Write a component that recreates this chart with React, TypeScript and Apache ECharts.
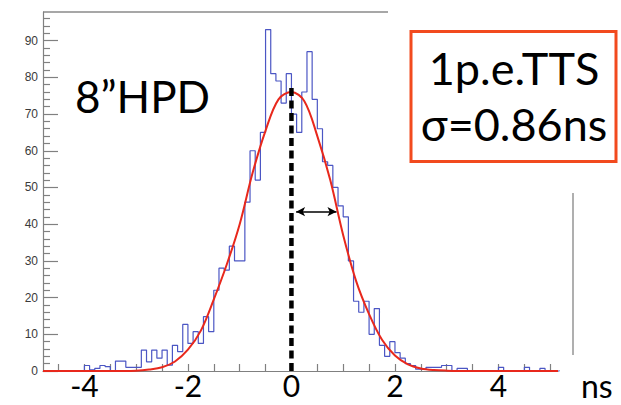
import React, { useEffect, useRef } from "react";
import * as echarts from "echarts";

// ---- histogram: 0.1 ns bins starting at -4.8 ns ----
const binStart = -4.8;
const binWidth = 0.1;
const countsM48toM41 = [0, 0, 0, 0, 0, 0, 0, 0];
const countsM40toM31 = [1.5, 0.3, 0.7, 1.5, 1.2, 0, 2.7, 2.7, 1, 1];
const countsM30toM21 = [1, 5.7, 2.5, 5.7, 3.5, 5.7, 1.6, 7, 5.3, 12.7];
const countsM20toM11 = [7.5, 10.7, 7.5, 14.8, 10.7, 22, 28, 27.5, 34, 30];
const countsM10toM01 = [30, 46, 60, 52, 65, 93, 81, 79, 73, 81];
const counts00to09 = [70, 65, 76, 87, 74, 66, 57, 56, 50, 45];
const counts10to19 = [42, 30, 19, 16, 19, 10, 17, 7, 4, 8];
const counts20to29 = [5, 3.5, 2, 1.5, 0.5, 0.5, 1, 1, 1, 1.5];
const counts30to39 = [1.5, 0, 0.7, 0.7, 0, 0, 0, 0, 0, 0];
const counts40to49 = [1, 0, 0, 0, 0, 1, 0, 0, 0.7, 0];
const counts50to51 = [0, 0];

// ---- gaussian fit curve ----
const fitX = [-4.8, -3.5, -3.0, -2.75, -2.5, -2.25, -2.0, -1.75, -1.5, -1.25, -1.0, -0.75, -0.5, -0.25, 0, 0.25, 0.5, 0.75, 1.0, 1.25, 1.5, 1.75, 2.0, 2.25, 2.5, 2.75, 3.0, 3.5, 5.15];
const fitY = [0, 0, 0.1, 0.4, 1.0, 2.6, 5.8, 11, 19.5, 29, 40, 54, 65.5, 74, 76, 73.5, 64, 52, 37, 24.5, 15.5, 8.5, 4.2, 1.8, 0.7, 0.25, 0.1, 0, 0];

// ---- annotations ----
const meanX = 0;
const meanTop = 78;
const sigmaFrom = 0.09;
const sigmaTo = 0.87;
const sigmaY = 43.4;

// ---- axes ----
const xMin = -4.8;
const xMax = 5.15;
const yMin = 0;
const yMax = 97.8;
const xTickValues = [-4.5, -4, -3.5, -3, -2.5, -2, -1.5, -1, -0.5, 0, 0.5, 1, 1.5, 2, 2.5, 3, 3.5, 4, 4.5, 5];
const xLabelValues = [-4, -2, 0, 2, 4];
const yMajorValues = [0, 10, 20, 30, 40, 50, 60, 70, 80, 90];
const yMinorValues = [2, 4, 6, 8, 12, 14, 16, 18, 22, 24, 26, 28, 32, 34, 36, 38, 42, 44, 46, 48, 52, 54, 56, 58, 62, 64, 66, 68, 72, 74, 76, 78, 82, 84, 86, 88, 92, 94, 96];

const labelDetector = "8”HPD";
const boxLine1 = "1p.e.TTS";
const boxLine2 = "σ=0.86ns";
const xUnit = "ns";

export default function App() {
  const ref = useRef<HTMLDivElement>(null);

  useEffect(() => {
    document.body.style.margin = "0";
    if (!ref.current) return;
    const chart = echarts.init(ref.current, undefined, { renderer: "svg" });

    const counts = [
      ...countsM48toM41, ...countsM40toM31, ...countsM30toM21, ...countsM20toM11,
      ...countsM10toM01, ...counts00to09, ...counts10to19, ...counts20to29,
      ...counts30to39, ...counts40to49, ...counts50to51,
    ];
    const histPts: number[][] = counts.map((c, i) => [binStart + i * binWidth, c]);
    histPts.push([binStart + counts.length * binWidth, counts[counts.length - 1]]);
    const fitPts = fitX.map((x, i) => [x, fitY[i]]);

    const axisGray = "#808080";
    const font = "Lato, 'Open Sans', sans-serif";

    chart.setOption({
      animation: false,
      grid: { left: 43, right: 63, top: 12, bottom: 34, containLabel: false },
      xAxis: {
        type: "value",
        min: xMin,
        max: xMax,
        axisLine: { show: true, onZero: false, lineStyle: { color: axisGray, width: 1.2 } },
        axisTick: { show: true, inside: true, length: 7, customValues: xTickValues, lineStyle: { color: axisGray, width: 1.2 } },
        axisLabel: { customValues: xLabelValues, color: "#000", fontSize: 30, lineHeight: 22, fontFamily: font, margin: 3 },
        splitLine: { show: false },
      },
      yAxis: [
        {
          type: "value",
          min: yMin,
          max: yMax,
          position: "left",
          axisLine: { show: true, onZero: false, lineStyle: { color: axisGray, width: 1.2 } },
          axisTick: { show: true, inside: true, length: 15, customValues: yMajorValues, lineStyle: { color: axisGray, width: 1.2 } },
          axisLabel: { customValues: yMajorValues, color: "#3a3a3a", fontSize: 12, fontFamily: "'Liberation Sans', Arial, sans-serif", margin: 5 },
          splitLine: { show: false },
        },
        {
          type: "value",
          min: yMin,
          max: yMax,
          position: "left",
          axisLine: { show: false, onZero: false },
          axisTick: { show: true, inside: true, length: 7, customValues: yMinorValues, lineStyle: { color: axisGray, width: 1.2 } },
          axisLabel: { show: false },
          splitLine: { show: false },
        },
      ],
      series: [
        {
          type: "line",
          data: histPts,
          step: "end",
          symbol: "none",
          lineStyle: { color: "#4b56c4", width: 1.2 },
          z: 2,
        },
        {
          type: "line",
          data: fitPts,
          smooth: 0.35,
          symbol: "none",
          lineStyle: { color: "#e8281c", width: 2 },
          z: 3,
        },
        {
          type: "line",
          data: [[meanX, 0], [meanX, meanTop]],
          symbol: "none",
          lineStyle: { color: "#000", width: 4.5, type: [8, 4.5] },
          z: 4,
          markLine: {
            silent: true,
            symbol: ["arrow", "arrow"],
            symbolSize: [7, 9],
            label: { show: false },
            lineStyle: { color: "#000", width: 1.5, type: "solid" },
            data: [[{ coord: [sigmaFrom, sigmaY] }, { coord: [sigmaTo, sigmaY] }]],
          },
        },
      ],
      graphic: [
        { type: "line", shape: { x1: 43, y1: 12, x2: 388, y2: 12 }, style: { stroke: "#8a8a8a", lineWidth: 1.5 } },
        { type: "line", shape: { x1: 573, y1: 193, x2: 573, y2: 355 }, style: { stroke: "#7a7a7a", lineWidth: 1.2 } },
        {
          type: "text", x: 75, y: 96,
          style: { text: labelDetector, font: `44px ${font}`, fill: "#000", align: "left", verticalAlign: "middle", textAlign: "left", textVerticalAlign: "middle" },
        },
        { type: "rect", shape: { x: 411, y: 31.5, width: 205, height: 130 }, style: { fill: "#fff", stroke: "#f24a1e", lineWidth: 3 } },
        {
          type: "text", x: 514, y: 67.5,
          style: { text: boxLine1, font: `45px ${font}`, fill: "#000", align: "center", verticalAlign: "middle", textAlign: "center", textVerticalAlign: "middle" },
        },
        {
          type: "text", x: 514, y: 124,
          style: { text: boxLine2, font: `45px ${font}`, fill: "#000", align: "center", verticalAlign: "middle", textAlign: "center", textVerticalAlign: "middle" },
        },
        {
          type: "text", x: 581, y: 385,
          style: { text: xUnit, font: `32px ${font}`, lineHeight: 22, fill: "#000", align: "left", verticalAlign: "middle", textAlign: "left", textVerticalAlign: "middle" },
        },
      ],
    });

    return () => chart.dispose();
  }, []);

  return <div ref={ref} style={{ position: "absolute", left: 0, top: 0, width: 621, height: 405 }} />;
}
